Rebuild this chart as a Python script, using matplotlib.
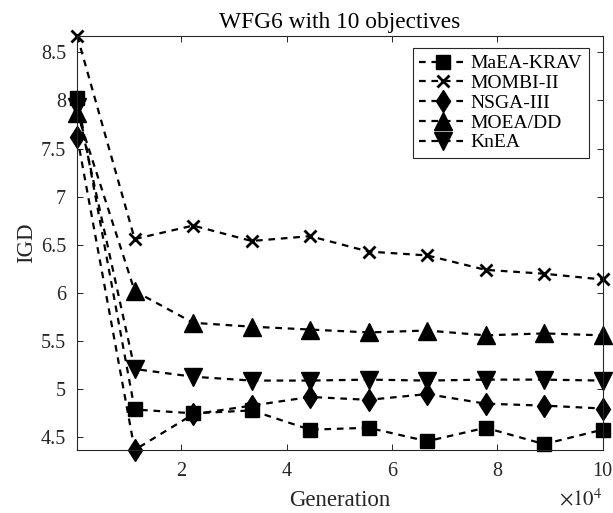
import matplotlib
matplotlib.use("Agg")
import matplotlib.pyplot as plt
from matplotlib.ticker import FuncFormatter

# Datos (IGD por generacion)
gens = [200, 11111, 22222, 33333, 44444, 55556, 66667, 77778, 88889, 100000]

maea_krav = [8.03, 4.79, 4.75, 4.78, 4.58, 4.60, 4.46, 4.60, 4.43, 4.58]
mombi_ii = [8.67, 6.56, 6.70, 6.54, 6.59, 6.43, 6.39, 6.24, 6.20, 6.14]
nsga_iii = [7.62, 4.37, 4.74, 4.83, 4.92, 4.89, 4.95, 4.85, 4.83, 4.80]
moea_dd = [7.87, 6.02, 5.69, 5.65, 5.62, 5.59, 5.61, 5.56, 5.58, 5.56]
knea = [7.93, 5.21, 5.13, 5.09, 5.09, 5.10, 5.09, 5.10, 5.10, 5.09]

series_names = ["MaEA-KRAV", "MOMBI-II", "NSGA-III", "MOEA/DD", "KnEA"]
x_ticks = [20000, 40000, 60000, 80000, 100000]
y_ticks = [4.5, 5, 5.5, 6, 6.5, 7, 7.5, 8, 8.5]

plt.rcParams["font.family"] = ["Liberation Serif", "DejaVu Serif"]
plt.rcParams["mathtext.fontset"] = "stix"

fig = plt.figure(figsize=(6.13, 5.13), dpi=100)
ax = fig.add_axes([0.126, 0.123, 0.857, 0.807])

axis_col = "#262626"
styles = [
    dict(marker="s", markersize=10),
    dict(marker="x", markersize=9, markeredgewidth=2.0),
    dict(marker="d", markersize=11.5),
    dict(marker="^", markersize=13),
    dict(marker="v", markersize=13),
]
all_series = [maea_krav, mombi_ii, nsga_iii, moea_dd, knea]

for vals, name, st in zip(all_series, series_names, styles):
    ax.plot(gens, vals, color="black", linestyle="--", dashes=(3, 2.6),
            linewidth=1.6, markerfacecolor="black", markeredgecolor="black",
            label=name, clip_on=False, **st)

# Ejes ajustados a los datos, como 'axis tight' de MATLAB
all_vals = [v for s in all_series for v in s]
ax.set_xlim(gens[0], gens[-1])
ax.set_ylim(min(all_vals), max(all_vals))

ax.set_xticks(x_ticks)
ax.set_yticks(y_ticks)
ax.xaxis.set_major_formatter(FuncFormatter(lambda v, p: f"{v / 1e4:g}"))
ax.yaxis.set_major_formatter(FuncFormatter(lambda v, p: f"{v:g}"))
ax.tick_params(direction="in", length=4, width=0.7, top=True, right=True,
               labelsize=14.5, colors=axis_col)
ax.tick_params(axis="x", pad=9)
ax.tick_params(axis="y", pad=8)
for sp in ax.spines.values():
    sp.set_color(axis_col)
    sp.set_linewidth(0.8)

ax.set_title("WFG6 with 10 objectives", fontsize=16.8, pad=6, color="black")
ax.set_xlabel("Generation", fontsize=16.5, color=axis_col, labelpad=6)
ax.set_ylabel("IGD", fontsize=16.5, color=axis_col, labelpad=3)
fig.text(602 / 613, 1 - 505 / 513, r"$\times10^4$", ha="right",
         va="baseline", fontsize=15, color=axis_col)

leg = ax.legend(loc="upper right", bbox_to_anchor=(0.975, 0.971), fontsize=14,
                handlelength=2.4, handletextpad=0.25, labelspacing=0.11,
                borderpad=0.35, borderaxespad=0.0, fancybox=False,
                framealpha=1.0, edgecolor=axis_col)
leg.get_frame().set_linewidth(0.8)

fig.savefig("out.png", dpi=100)
